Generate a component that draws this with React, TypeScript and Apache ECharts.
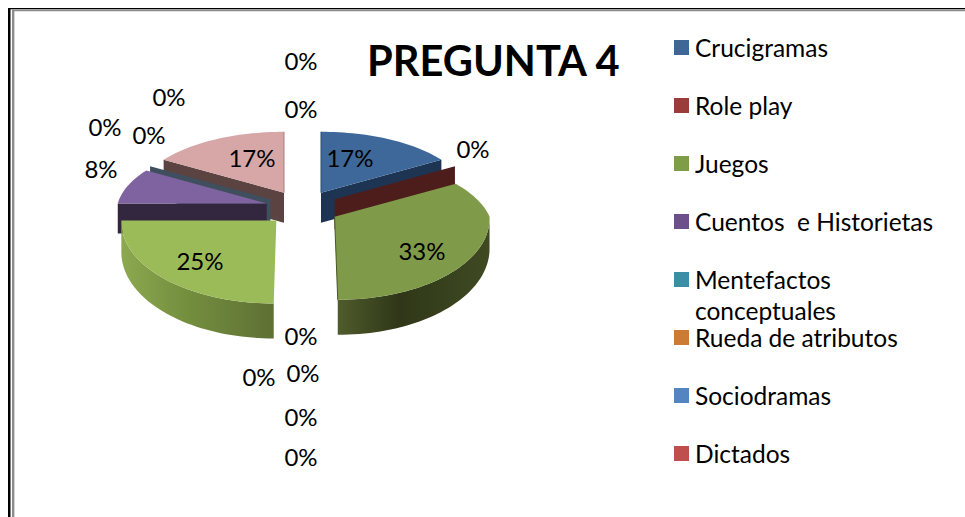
import React, { useEffect, useRef } from "react";
import * as echarts from "echarts";

const titleText = "PREGUNTA 4";
const legendNames = ["Crucigramas", "Role play", "Juegos", "Cuentos  e Historietas", "Mentefactos conceptuales", "Rueda de atributos", "Sociodramas", "Dictados"];
const legendColors = ["#3D6797", "#9A3D3A", "#7F9D47", "#6C4F8B", "#3A8FA6", "#CC7B35", "#5385C1", "#BF4F4C"];
// Responses per slice, clockwise from 12 o'clock (the chart has more slices than its legend shows)
const sliceValues = [2, 0, 4, 0, 0, 0, 0, 0, 3, 1, 0, 0, 0, 2, 0, 0];

// Layout and styling, by slice index
const FONT = "Lato";
const LABEL_SIZE = 24;
const LEGEND_SIZE = 24.5;
const topColors: Record<number, string> = { 0: "#3E6899", 2: "#7F9A48", 8: "#9BBB59", 9: "#7F62A0", 13: "#D7A6A6" };
const cutColors: Record<number, string> = { 0: "#1D3552", 1: "#4D1D1C", 9: "#33273F", 10: "#3F4F5E", 13: "#5A4341" };
const curveStops: Record<number, [string, string, string]> = {
  2: ["#4F5C2B", "#2F3718", "#3F4A22"],
  8: ["#8CA950", "#75903F", "#5E7034"],
};
const edgeLines: Record<number, "start" | "end"> = { 0: "start", 2: "end", 13: "end" };
const edgeColors: Record<number, string> = { 0: "#2A4A70", 2: "#4A5528", 13: "#A98080" };
const labelCenters: [number, number][] = [
  [350, 157], [473, 148], [422, 250], [301, 335], [303, 372], [259, 376], [301, 416], [301, 456],
  [200, 260], [101, 168], [105, 126], [149, 134], [169, 96], [252, 157], [301, 108], [301, 60],
];
const drawOrder = [13, 0, 10, 9, 1, 8, 2, 3, 4, 5, 6, 7, 11, 12, 14, 15];
const CX = 302.5, CY = 208, EX = 37, EY = 17.6;

const total = sliceValues.reduce((a, b) => a + b, 0);
const rad = (d: number) => (d * Math.PI) / 180;

function sliceAngles(i: number) {
  let before = 0;
  for (let k = 0; k < i; k++) before += sliceValues[k];
  const start = (before / total) * 360;
  return { start, end: start + (sliceValues[i] / total) * 360 };
}

function renderSlice(_: any, api: any) {
  const i = api.value(0);
  const { start, end } = sliceAngles(i);
  const mid = (start + end) / 2;
  const ax = CX + EX * Math.sin(rad(mid));
  const ay = CY - EY * Math.cos(rad(mid));
  const near = ay > 210;
  const rim = (deg: number): [number, number] => {
    const c = Math.cos(rad(deg)), s = Math.sin(rad(deg));
    const rx = near ? 155 - 30 * Math.max(c, 0) : 149 - 20 * Math.max(c, 0);
    const ry = c > 0 ? 61 + 10 * (1 - c) : 83;
    return [ax + s * rx + (ax - CX) * 0.1 * Math.max(-c, 0), ay - c * ry];
  };
  const depth = (deg: number) => 30 + 5 * Math.max(-Math.cos(rad(deg)), 0);
  const arc = (a: number, b: number) => {
    const pts: number[] = [];
    for (let d = a; d < b; d += 2) pts.push(d);
    pts.push(b);
    return pts;
  };
  const order = drawOrder.indexOf(i);
  const children: any[] = [];

  const cutDeg = end < 90 ? end : start >= 270 ? start : null;
  if (cutDeg !== null && cutColors[i]) {
    const p = rim(cutDeg), d = depth(cutDeg);
    children.push({
      type: "polygon", z2: order * 4,
      shape: { points: [[ax, ay], p, [p[0], p[1] + d], [ax, ay + 30]] },
      style: { fill: cutColors[i] },
    });
  }
  const a = Math.max(start, 90), b = Math.min(end, 270);
  if (b > a && curveStops[i]) {
    const degs = arc(a, b);
    const top = degs.map(rim);
    const bottom = degs.map((d) => { const p = rim(d); return [p[0], p[1] + depth(d)]; }).reverse();
    const st = curveStops[i];
    children.push({
      type: "polygon", z2: order * 4 + 1,
      shape: { points: [...top, ...bottom] },
      style: {
        fill: new echarts.graphic.LinearGradient(0, 0, 1, 0, [
          { offset: 0, color: st[0] },
          { offset: 0.4, color: st[1] },
          { offset: 1, color: st[2] },
        ]),
      },
    });
  }
  if (end > start && topColors[i]) {
    children.push({
      type: "polygon", z2: order * 4 + 2,
      shape: { points: [[ax, ay], ...arc(start, end).map(rim)] },
      style: { fill: topColors[i] },
    });
  }
  if (edgeLines[i]) {
    const p = rim(edgeLines[i] === "start" ? start : end);
    children.push({
      type: "line", z2: order * 4 + 3,
      shape: { x1: ax, y1: ay, x2: p[0], y2: p[1] },
      style: { stroke: edgeColors[i], lineWidth: 1 },
    });
  }
  const [lx, ly] = labelCenters[i];
  children.push({
    type: "text", z2: 200,
    style: {
      text: Math.round((api.value(1) / total) * 100) + "%",
      x: lx, y: ly, align: "center", verticalAlign: "middle",
      fill: "#000", font: `${LABEL_SIZE}px ${FONT}`,
    },
  });
  return { type: "group", children };
}

export default function App() {
  const ref = useRef<HTMLDivElement>(null);
  useEffect(() => {
    document.body.style.margin = "0";
    const chart = echarts.init(ref.current!, null, { renderer: "svg" });
    chart.setOption({
      animation: false,
      backgroundColor: "#fff",
      title: {
        text: titleText, left: 362, top: 34,
        textStyle: { fontFamily: FONT, fontWeight: "bold", fontSize: 41.6, color: "#000" },
      },
      legend: {
        orient: "vertical", left: 669, top: 30, itemWidth: 15, itemHeight: 15, itemGap: 33,
        icon: "rect", selectedMode: false, itemStyle: { borderWidth: 0 },
        data: legendNames,
        formatter: (n: string) => n.split(" conceptuales")[0],
        textStyle: { fontFamily: FONT, fontSize: LEGEND_SIZE, color: "#000", lineHeight: 24, padding: [0, 0, 0, 1] },
      },
      graphic: [
        { type: "rect", shape: { x: 8, y: 8, width: 2.5, height: 509 }, style: { fill: "#000" } },
        { type: "rect", shape: { x: 8, y: 8, width: 957, height: 1.3 }, style: { fill: "#000" } },
        { type: "rect", shape: { x: 12, y: 9.5, width: 2, height: 507.5 }, style: { fill: "#8c8c8c" } },
        { type: "rect", shape: { x: 14, y: 11, width: 1, height: 506 }, style: { fill: "#d4d4d4" } },
        { type: "rect", shape: { x: 12, y: 9.5, width: 953, height: 1.7 }, style: { fill: "#8c8c8c" } },
        { type: "text", style: { text: "conceptuales", x: 695, y: 310.5, verticalAlign: "middle", fill: "#000", font: `${LEGEND_SIZE}px ${FONT}` } },
      ],
      series: [
        {
          // Carries the legend's entries; has no visible area of its own
          type: "pie", radius: [0, 0], center: [-50, -50], silent: true,
          label: { show: false }, labelLine: { show: false },
          data: legendNames.map((name, k) => ({ name, value: sliceValues[k], itemStyle: { color: legendColors[k] } })),
        },
        {
          type: "custom", coordinateSystem: "none", silent: true,
          renderItem: renderSlice,
          data: drawOrder.map((i) => [i, sliceValues[i]]),
        },
      ],
    });
    return () => chart.dispose();
  }, []);
  return <div ref={ref} style={{ position: "absolute", left: 0, top: 0, width: 965, height: 517 }} />;
}
